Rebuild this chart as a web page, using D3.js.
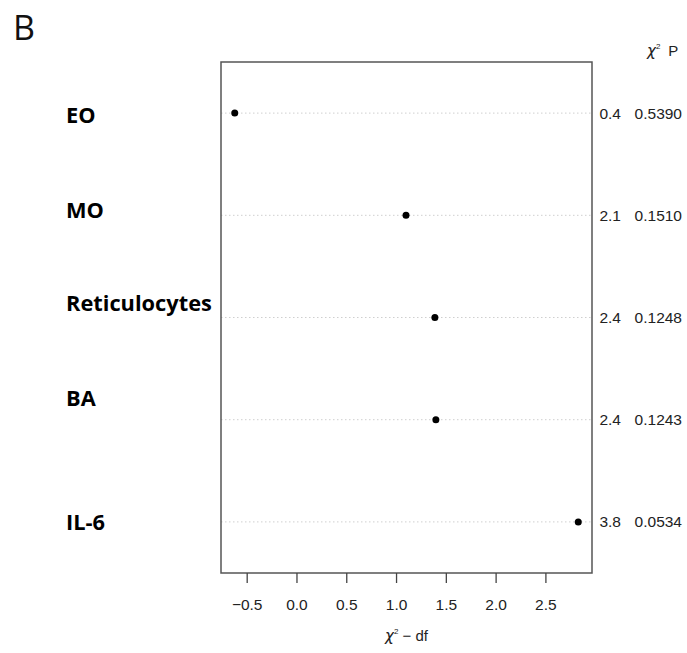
<!DOCTYPE html>
<html>
<head>
<meta charset="utf-8">
<script src="https://cdn.jsdelivr.net/npm/d3@7"></script>
<style>
  body { margin: 0; background: #fff; }
  svg { display: block; }
</style>
</head>
<body>
<div id="chart"></div>
<script>
// Data
const labels = ["EO", "MO", "Reticulocytes", "BA", "IL-6"];
const chiMinusDf = [-0.62, 1.10, 1.39, 1.40, 2.83];
const chiText = ["0.4", "2.1", "2.4", "2.4", "3.8"];
const pText = ["0.5390", "0.1510", "0.1248", "0.1243", "0.0534"];
const xTicks = [-0.5, 0.0, 0.5, 1.0, 1.5, 2.0, 2.5];
// how far each row label sits above its line
const labelShift = [-2, 5, 15, 22, 0];

const width = 687, height = 653;
const box = { left: 221, right: 592, top: 62, bottom: 573 };

const svg = d3.select("#chart").append("svg")
    .attr("width", width)
    .attr("height", height);

// R style 4% padding round the data
let ext = d3.extent(chiMinusDf);
let pad = (ext[1] - ext[0]) * 0.04;
const x = d3.scaleLinear()
    .domain([ext[0] - pad, ext[1] + pad])
    .range([box.left, box.right]);

const y = d3.scalePoint()
    .domain(labels)
    .range([box.top, box.bottom])
    .padding(0.5);

// panel letter
svg.append("text")
    .attr("x", 13)
    .attr("y", 40)
    .attr("font-family", "'Open Sans', sans-serif")
    .attr("font-size", 34)
    .attr("font-weight", 500)
    .attr("fill", "#111")
    .text("B");

// dotted guide lines
svg.selectAll("line.grid")
    .data(labels)
    .enter().append("line")
    .attr("class", "grid")
    .attr("x1", box.left)
    .attr("x2", box.right)
    .attr("y1", d => y(d))
    .attr("y2", d => y(d))
    .attr("stroke", "#cfcfcf")
    .attr("stroke-width", 1)
    .attr("stroke-dasharray", "1.5,2.5");

// points
svg.selectAll("circle")
    .data(labels)
    .enter().append("circle")
    .attr("cx", (d, i) => x(chiMinusDf[i]))
    .attr("cy", d => y(d))
    .attr("r", 3.5)
    .attr("fill", "#000");

// frame
svg.append("rect")
    .attr("x", box.left)
    .attr("y", box.top)
    .attr("width", box.right - box.left)
    .attr("height", box.bottom - box.top)
    .attr("fill", "none")
    .attr("stroke", "#555")
    .attr("stroke-width", 1.5);

// left bold labels
svg.selectAll("text.rowlab")
    .data(labels)
    .enter().append("text")
    .attr("class", "rowlab")
    .attr("x", 66)
    .attr("y", (d, i) => y(d) - labelShift[i] + 8)
    .attr("font-family", "'Open Sans', sans-serif")
    .attr("font-weight", "bold")
    .attr("font-size", 21.8)
    .attr("fill", "#000")
    .text(d => d);

// right columns: chi2 and P
const rightFont = "'Liberation Sans', Arial, Helvetica, sans-serif";
svg.selectAll("text.chi")
    .data(labels)
    .enter().append("text")
    .attr("class", "chi")
    .attr("x", 621)
    .attr("y", d => y(d) + 5.5)
    .attr("text-anchor", "end")
    .attr("font-family", rightFont)
    .attr("font-size", 15.5)
    .attr("fill", "#222")
    .text((d, i) => chiText[i]);

svg.selectAll("text.pval")
    .data(labels)
    .enter().append("text")
    .attr("class", "pval")
    .attr("x", 682)
    .attr("y", d => y(d) + 5.5)
    .attr("text-anchor", "end")
    .attr("font-family", rightFont)
    .attr("font-size", 15.5)
    .attr("fill", "#222")
    .text((d, i) => pText[i]);

// header
const head = svg.append("text")
    .attr("x", 647)
    .attr("y", 56)
    .attr("font-family", rightFont)
    .attr("font-size", 15)
    .attr("fill", "#222");
head.append("tspan").attr("font-family", "'DejaVu Sans', sans-serif").attr("font-style", "italic").text("χ");
head.append("tspan").attr("font-size", 8).attr("dy", -7).text("2");
head.append("tspan").attr("dy", 7).attr("dx", 8).text("P");

// x axis
const axis = svg.append("g")
    .attr("transform", `translate(0, ${box.bottom})`)
    .call(d3.axisBottom(x)
        .tickValues(xTicks)
        .tickSize(10)
        .tickPadding(16)
        .tickFormat(d3.format(".1f")));
axis.select(".domain").remove();
axis.selectAll(".tick line")
    .attr("stroke", "#444")
    .attr("stroke-width", 1.3)
    .attr("y1", 0);
axis.selectAll(".tick text")
    .attr("font-family", rightFont)
    .attr("font-size", 15.5)
    .attr("fill", "#222");

// axis title
const title = svg.append("text")
    .attr("x", (box.left + box.right) / 2)
    .attr("y", 641)
    .attr("text-anchor", "middle")
    .attr("font-family", rightFont)
    .attr("font-size", 15)
    .attr("fill", "#222");
title.append("tspan").attr("font-family", "'DejaVu Sans', sans-serif").attr("font-style", "italic").text("χ");
title.append("tspan").attr("font-size", 8).attr("dy", -7).text("2");
title.append("tspan").attr("dy", 7).text(" − df");
</script>
</body>
</html>
